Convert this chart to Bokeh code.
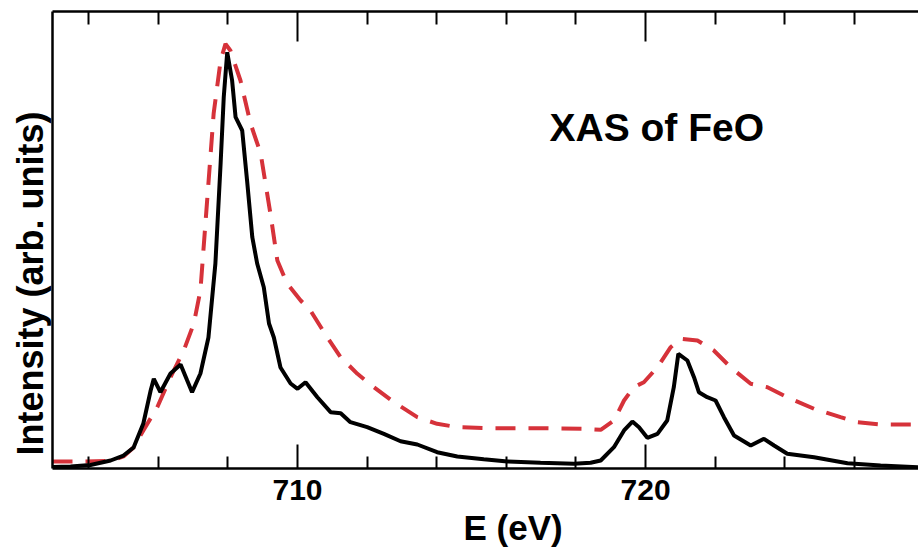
from bokeh.plotting import figure
from bokeh.models import Range1d, FixedTicker, LinearAxis, Label, Title
from bokeh.embed import file_html
from bokeh.resources import INLINE

# Experimental-like (black, solid) spectrum
energy_black = [702.96, 703.48, 704.05, 704.63, 705.00, 705.29, 705.57, 705.78, 705.87, 706.06,
                706.35, 706.64, 706.83, 706.97, 707.21, 707.44, 707.64, 707.79, 707.88, 707.98,
                708.12, 708.22, 708.41, 708.55, 708.70, 708.84, 709.03, 709.18, 709.32, 709.51,
                709.80, 710.00, 710.23, 710.57, 710.95, 711.24, 711.52, 712.00, 712.48, 712.96,
                713.44, 714.01, 714.59, 715.35, 716.03, 716.98, 717.94, 718.42, 718.71, 719.09,
                719.38, 719.62, 719.81, 720.05, 720.34, 720.62, 720.81, 720.94, 721.20, 721.39,
                721.53, 721.77, 722.01, 722.25, 722.54, 723.02, 723.40, 723.69, 724.07, 724.84,
                725.80, 726.75, 727.84]
intensity_black = [0.33, 0.44, 0.77, 1.75, 2.84, 4.60, 9.85, 17.07, 19.63, 16.70,
                   20.79, 22.76, 19.26, 16.70, 20.79, 28.67, 44.86, 66.74, 81.25, 91.09,
                   84.90, 76.87, 73.96, 63.02, 50.61, 44.86, 39.67, 31.73, 28.67, 22.10,
                   18.60, 17.44, 18.88, 15.60, 12.32, 12.10, 10.13, 9.04, 7.59, 5.97,
                   5.25, 3.57, 2.63, 2.04, 1.53, 1.25, 1.03, 1.25, 1.75, 4.66,
                   8.32, 10.28, 9.04, 6.72, 7.59, 10.50, 17.79, 25.10, 23.63, 19.98,
                   16.70, 15.60, 14.88, 11.23, 7.22, 5.03, 6.50, 5.03, 3.22, 2.47,
                   1.16, 0.66, 0.28]

# Calculated-like (red, dashed) spectrum
energy_red = [702.96, 703.76, 704.63, 705.00, 705.29, 705.57, 705.97, 706.35, 706.73, 707.02,
              707.21, 707.41, 707.59, 707.79, 707.93, 708.07, 708.36, 708.65, 708.94, 709.22,
              709.42, 709.70, 710.09, 710.37, 710.85, 711.24, 711.72, 712.19, 712.77, 713.44,
              714.01, 714.59, 715.55, 716.98, 718.23, 718.71, 719.09, 719.38, 719.66, 719.95,
              720.34, 720.72, 721.01, 721.49, 721.96, 722.44, 723.02, 723.50, 724.07, 724.84,
              725.60, 726.08, 726.75, 727.84]
intensity_red = [1.53, 1.53, 1.64, 2.63, 4.60, 8.32, 13.41, 19.98, 25.82, 31.73,
                 38.95, 59.37, 77.68, 89.28, 92.93, 91.47, 84.90, 75.49, 68.93, 55.80,
                 45.51, 40.48, 36.76, 34.57, 28.73, 24.35, 20.72, 17.79, 14.51, 11.23,
                 9.78, 9.04, 8.82, 8.82, 8.69, 8.47, 10.50, 14.88, 17.79, 18.88,
                 22.17, 26.54, 28.38, 28.01, 25.82, 22.17, 18.53, 17.79, 15.60, 13.06,
                 11.23, 10.13, 9.63, 9.63]

major_ticks = [710, 720]
minor_ticks = [704, 706, 708, 712, 714, 716, 718, 722, 724, 726, 728]

title_text = "XAS of FeO"
x_label = "E (eV)"
y_label = "Intensity (arb. units)"

FONT = "Liberation Sans"

p = figure(width=918, height=552, output_backend="svg", toolbar_location=None,
           x_range=Range1d(702.96, 727.84), y_range=Range1d(0, 100),
           x_axis_location=None, y_axis_location=None,
           min_border_left=52, min_border_right=0, min_border_top=11, min_border_bottom=84)
p.outline_line_color = None
p.grid.visible = False
p.background_fill_color = "white"
p.border_fill_color = "white"


def tick_style(ax, major_len, minor_len):
    ax.major_tick_in = major_len
    ax.major_tick_out = 0
    ax.minor_tick_in = minor_len
    ax.minor_tick_out = 0
    ax.axis_line_width = 2.5
    ax.axis_line_color = "black"
    ax.major_tick_line_width = 2
    ax.major_tick_line_color = "black"
    ax.minor_tick_line_width = 2
    ax.minor_tick_line_color = "black"


# bottom axis
xb = LinearAxis(ticker=FixedTicker(ticks=major_ticks, minor_ticks=minor_ticks))
tick_style(xb, 24, 12)
xb.major_label_text_font = FONT
xb.major_label_text_font_style = "bold"
xb.major_label_text_font_size = "30px"
xb.major_label_text_color = "black"
xb.major_label_standoff = 11
p.add_layout(xb, "below")

# top axis (ticks only)
xt = LinearAxis(ticker=FixedTicker(ticks=major_ticks, minor_ticks=minor_ticks))
tick_style(xt, 30, 13)
xt.major_label_text_font_size = "1px"
xt.major_label_text_alpha = 0
xt.major_label_standoff = 0
p.add_layout(xt, "above")

# left axis (line only)
yl = LinearAxis(ticker=FixedTicker(ticks=[]))
yl.axis_line_width = 2.5
yl.major_tick_out = 0
yl.minor_tick_out = 0
yl.major_label_text_font_size = "1px"
yl.major_label_standoff = 0
p.add_layout(yl, "left")

p.line(energy_red, intensity_red, line_color="#d6323a", line_width=4, line_dash="20 13")
p.line(energy_black, intensity_black, line_color="black", line_width=4)

p.add_layout(Label(x=720.32, y=74.6, text=title_text, text_font=FONT, text_font_style="bold",
                   text_font_size="39px", text_align="center", text_baseline="middle",
                   text_color="black"))

xtitle = Title(text=x_label, align="left", offset=411, standoff=6,
               text_font=FONT, text_font_style="bold", text_font_size="35px",
               text_color="black")
p.add_layout(xtitle, "below")

ytitle = Title(text=y_label, align="left", offset=13, standoff=4,
               text_font=FONT, text_font_style="bold", text_font_size="36px",
               text_color="black")
p.add_layout(ytitle, "left")

open("out.html", "w").write(file_html(p, INLINE))
